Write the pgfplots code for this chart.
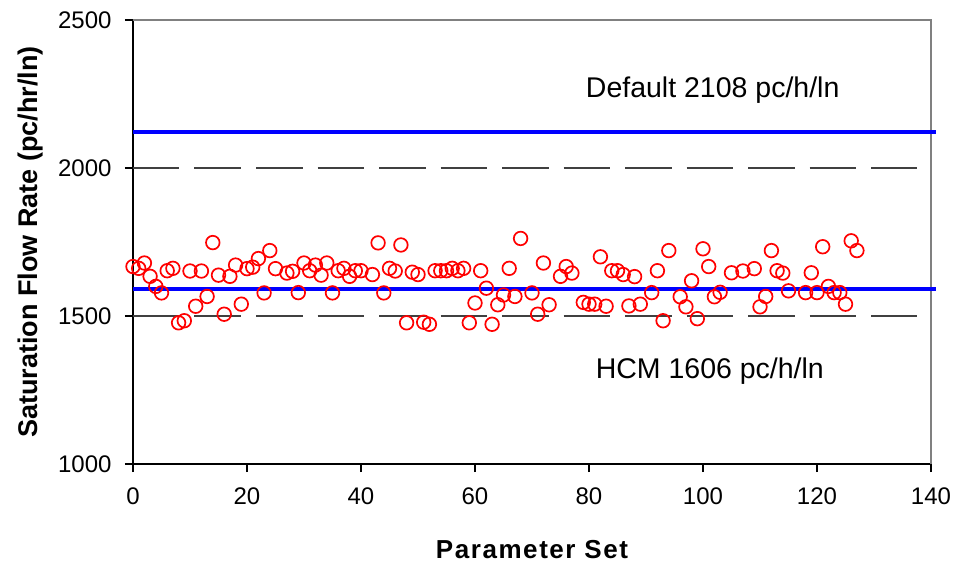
\documentclass[border=0pt]{standalone}
\usepackage{fontspec}
\setmainfont{Liberation Sans}
\newfontfamily\xlabfont[LetterSpace=6]{Liberation Sans}
\usepackage{pgfplots}
\pgfplotsset{compat=1.18}
\definecolor{blueline}{RGB}{0,0,255}
\definecolor{redmark}{RGB}{255,0,0}
\definecolor{frameGray}{RGB}{128,128,128}
\begin{document}
\begin{tikzpicture}
\useasboundingbox (-133pt,-101pt) rectangle (823pt,464pt);
\begin{axis}[
  at={(0pt,0pt)}, anchor=south west,
  width=798pt, height=444pt, scale only axis,
  xmin=0, xmax=140, ymin=1000, ymax=2500,
  xtick={0,20,...,140}, ytick={1000,1500,2000,2500},
  axis x line*=bottom, axis y line*=left,
  axis line style={black, line width=1.2pt, -},
  tick align=outside, major tick length=8pt,
  tick style={black, line width=1.2pt},
  minor tick num=0,
  /pgf/number format/assume math mode=true,
  /pgf/number format/1000 sep={},
  ticklabel style={font=\fontsize{24}{28}\selectfont},
  yticklabel style={xshift=-10pt},
  xticklabel style={yshift=-12pt},
  xlabel={\xlabfont\bfseries Parameter Set},
  ylabel={\bfseries Saturation Flow Rate (pc/hr/ln)},
  xlabel style={font=\fontsize{26}{30}\selectfont, at={(axis description cs:0.5,-0.1937)}, anchor=center},
  ylabel style={font=\fontsize{27}{31}\selectfont, at={(axis description cs:-0.129,0.5)}, anchor=center},
  clip=false,
]
% frame top and right (gray)
\draw[frameGray, line width=1.3pt] (rel axis cs:0,1) -- (rel axis cs:1,1) -- (rel axis cs:1,0);
% dashed reference lines
\addplot[black!75, line width=1.2pt, dash pattern=on 46.5pt off 15pt] coordinates {(0,2000) (137.6,2000)};
\addplot[black!75, line width=1.2pt, dash pattern=on 46.5pt off 15pt] coordinates {(0,1500) (137.6,1500)};
% blue lines
\addplot[blueline, line width=4pt] coordinates {(0,2120) (140.9,2120)};
\addplot[blueline, line width=4pt] coordinates {(0,1592) (140.9,1592)};
% data
\addplot[only marks, mark=o, mark size=6.8pt, redmark, line width=1.7pt] coordinates {
(0,1667) (1,1661) (2,1679) (3,1634) (4,1600) (5,1578) (6,1653) (7,1661) (8,1477) (9,1484)
(10,1652) (11,1533) (12,1652) (13,1566) (14,1748) (15,1638) (16,1506) (17,1634) (18,1672) (19,1540)
(20,1660) (21,1665) (22,1694) (23,1578) (24,1721) (25,1660) (27,1645) (28,1651) (29,1579)
(30,1679) (31,1653) (32,1672) (33,1638) (34,1679) (35,1578) (36,1653) (37,1661) (38,1634) (39,1653)
(40,1653) (42,1640) (43,1747) (44,1578) (45,1661) (46,1652) (47,1740) (48,1477) (49,1648)
(50,1640) (51,1479) (52,1472) (53,1653) (54,1653) (55,1653) (56,1661) (57,1653) (58,1661) (59,1477)
(60,1544) (61,1653) (62,1594) (63,1472) (64,1538) (65,1571) (66,1661) (67,1566) (68,1762)
(70,1578) (71,1506) (72,1679) (73,1538) (75,1634) (76,1667) (77,1645) (79,1546)
(80,1540) (81,1540) (82,1700) (83,1533) (84,1653) (85,1653) (86,1640) (87,1534) (88,1633) (89,1540)
(91,1579) (92,1653) (93,1484) (94,1721) (96,1565) (97,1531) (98,1619) (99,1491)
(100,1727) (101,1667) (102,1565) (103,1580) (105,1646) (107,1652) (109,1660)
(110,1531) (111,1566) (112,1721) (113,1653) (114,1645) (115,1585) (118,1579) (119,1646)
(120,1579) (121,1734) (122,1600) (123,1579) (124,1579) (125,1540) (126,1754) (127,1721)
};
\node[anchor=base, font=\fontsize{28.5}{32}\selectfont] at (axis cs:101.7,2239) {Default 2108 pc/h/ln};
\node[anchor=base, font=\fontsize{28.5}{32}\selectfont] at (axis cs:101.2,1290) {HCM 1606 pc/h/ln};
\end{axis}
\end{tikzpicture}
\end{document}
